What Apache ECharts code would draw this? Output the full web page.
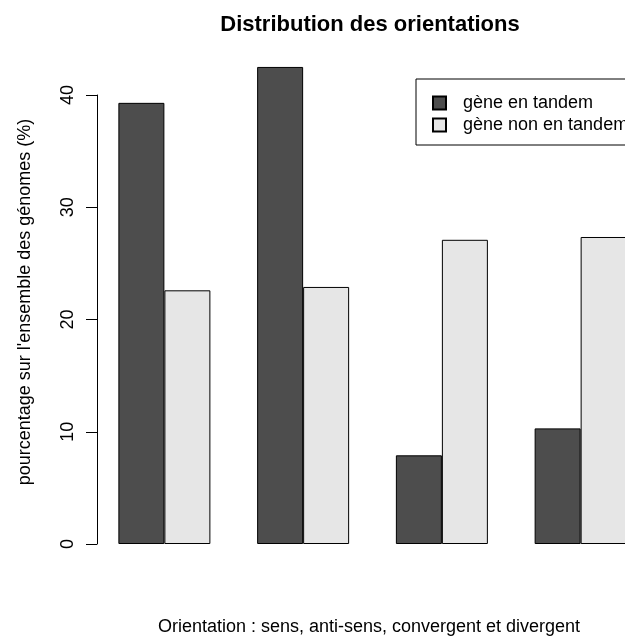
<!DOCTYPE html>
<html>
<head>
<meta charset="utf-8">
<script src="https://cdn.jsdelivr.net/npm/echarts@6/dist/echarts.min.js"></script>
<style>html,body{margin:0;padding:0;background:#fff;}#c{width:625px;height:639px;}</style>
</head>
<body>
<div id="c"></div>
<script>
const categories = ['sens', 'anti-sens', 'convergent', 'divergent'];
const seriesNames = ['gène en tandem', 'gène non en tandem'];
const tandem = [39.3, 42.5, 7.9, 10.3];
const nonTandem = [22.6, 22.9, 27.1, 27.35];
const yTicks = [0, 10, 20, 30, 40];

const FONT = '"Liberation Sans", Arial, sans-serif';
const chart = echarts.init(document.getElementById('c'), null, {renderer: 'canvas'});
chart.setOption({
  animation: false,
  backgroundColor: '#ffffff',
  textStyle: {fontFamily: FONT, color: '#000'},
  grid: {left: 95, top: 95, width: 555, height: 449, containLabel: false, outerBoundsMode: 'none'},
  legend: {
    orient: 'vertical',
    left: 416, top: 79,
    padding: [13, 20, 9, 16],
    itemWidth: 13, itemHeight: 13, itemGap: 0,
    borderColor: '#000', borderWidth: 1, borderRadius: 0,
    icon: 'rect',
    textStyle: {fontFamily: FONT, fontSize: 18, color: '#000', lineHeight: 22, padding: [0, 0, 0, 12]},
    data: seriesNames
  },
  xAxis: {
    type: 'category', data: categories,
    axisLine: {show: false}, axisTick: {show: false}, axisLabel: {show: false},
    splitLine: {show: false}
  },
  yAxis: {
    type: 'value', min: yTicks[0], max: yTicks[yTicks.length - 1], interval: 10,
    offset: -2,
    axisLine: {show: true, lineStyle: {color: '#000', width: 1}},
    axisTick: {show: true, length: 11, lineStyle: {color: '#000', width: 1}},
    axisLabel: {show: true, rotate: 90, fontSize: 18, color: '#000', fontFamily: FONT, margin: 20},
    splitLine: {show: false}
  },
  series: [
    {name: seriesNames[0], type: 'bar', data: tandem, barWidth: 46, barGap: '0%', clip: false,
     itemStyle: {color: '#4D4D4D', borderColor: '#000', borderWidth: 1}},
    {name: seriesNames[1], type: 'bar', data: nonTandem, barWidth: 46, barGap: '0%', clip: false,
     itemStyle: {color: '#E6E6E6', borderColor: '#000', borderWidth: 1}}
  ],
  graphic: [
    {type: 'text', x: 370, y: 25, style: {text: 'Distribution des orientations', font: 'bold 22px ' + FONT, fill: '#000', align: 'center', verticalAlign: 'middle'}},
    {type: 'text', x: 369, y: 627, style: {text: 'Orientation : sens, anti-sens, convergent et divergent', font: '18px ' + FONT, fill: '#000', align: 'center', verticalAlign: 'middle'}},
    {type: 'text', x: 25, y: 302, rotation: Math.PI / 2, style: {text: "pourcentage sur l'ensemble des génomes (%)", font: '18px ' + FONT, fill: '#000', align: 'center', verticalAlign: 'middle'}}
  ]
});
</script>
</body>
</html>
